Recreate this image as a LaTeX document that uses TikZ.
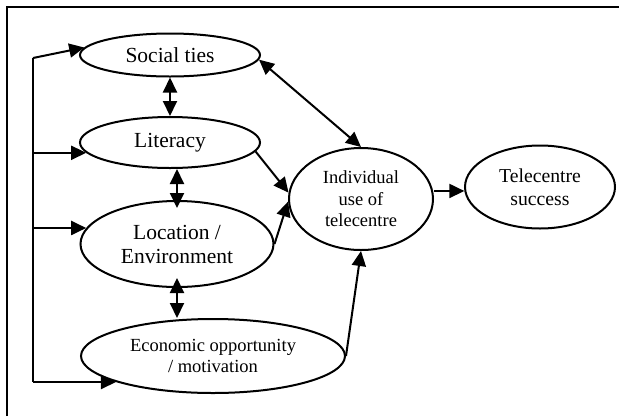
\documentclass[tikz,border=0pt]{standalone}
\usepackage{fontspec}
\setmainfont{Liberation Serif}
\usetikzlibrary{shapes.geometric,arrows.meta}
\tikzset{
  ell/.style={draw,ellipse,line width=2pt,inner sep=0pt,align=center},
  bigtxt/.style={font=\fontsize{21.5}{24}\selectfont},
  midtxt/.style={font=\fontsize{19.7}{23}\selectfont},
  smalltxt/.style={font=\fontsize{18.5}{21.5}\selectfont},
  con/.style={line width=2pt,-{Triangle[length=15pt,width=14pt]}},
  dcon/.style={line width=2pt,{Triangle[length=15pt,width=14pt]}-{Triangle[length=15pt,width=14pt]}},
  frame/.style={line width=2.4pt}
}
\begin{document}
\begin{tikzpicture}[x=1pt,y=-1pt]
\useasboundingbox (0,0) rectangle (619,416);
\coordinate (fl) at (7,416);
\coordinate (fc) at (7,7);
\coordinate (fr) at (619,7);
\draw[frame] (fl) -- (fc) -- (fr);

\node[ell,bigtxt,minimum width=180pt,minimum height=43pt] (soc) at (170,55) {Social ties};
\node[ell,bigtxt,minimum width=180pt,minimum height=51pt] (lit) at (170,142.5) {Literacy};
\node[ell,bigtxt,minimum width=193pt,minimum height=86pt] (loc) at (177,244) {Location /\\Environment};
\node[ell,smalltxt,minimum width=264pt,minimum height=74pt] (eco) at (213,356) {Economic opportunity\\/ motivation};
\node[ell,smalltxt,minimum width=144pt,minimum height=102pt] (ind) at (361,199) {Individual\\use of\\telecentre};
\node[ell,midtxt,minimum width=150pt,minimum height=83pt] (tel) at (540,187) {Telecentre\\success};

% left bus
\coordinate (bt) at (33,58);
\coordinate (bb) at (bt |- eco.195);
\draw[line width=2pt] (bt) -- (bb);
\draw[con] (bt) -- (soc.175);
\draw[con] (bt |- lit.187) -- (lit.187);
\draw[con] (bt |- loc.170) -- (loc.170);
\draw[con] (bb) -- (eco.195);

% vertical double arrows
\draw[dcon] (soc.south) -- (lit.north);
\draw[dcon,shorten >=-8pt] (loc.north |- lit.south) -- (loc.north);
\draw[dcon,shorten <=-10pt] (loc.south) -- (loc.south |- eco.north);

% to individual use
\draw[dcon] (soc.-3) -- (ind.north);
\draw[con] (lit.-6) -- (ind.175);
\draw[con] (loc.east) -- (ind.182);
\draw[con] (eco.east) -- (ind.south);
\draw[con] (ind.east |- tel.183) -- (tel.183);
\end{tikzpicture}
\end{document}
